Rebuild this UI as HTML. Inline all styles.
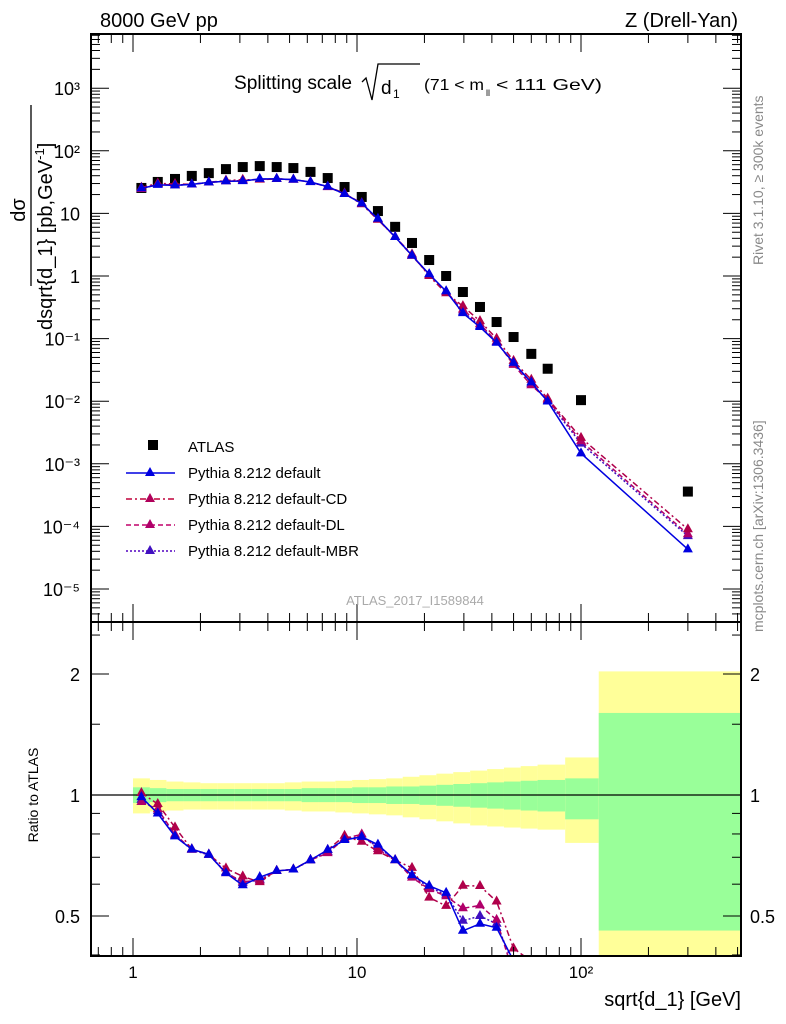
<!DOCTYPE html>
<html><head><meta charset="utf-8"><style>
html,body{margin:0;padding:0;background:#fff;width:786px;height:1024px;overflow:hidden;}
svg{display:block;font-family:"Liberation Sans",sans-serif;}
</style></head><body>
<svg id="c" width="786" height="1024" viewBox="0 0 786 1024" xmlns="http://www.w3.org/2000/svg">
<rect x="0" y="0" width="786" height="1024" fill="#fff"/>
<g id="bands"></g><g id="marks"></g><g id="axes"></g>
<text x="100" y="27" font-size="20">8000 GeV pp</text>
<text x="738" y="27" font-size="20" text-anchor="end">Z (Drell-Yan)</text>
<g>
<text x="234" y="89" font-size="19" textLength="118" lengthAdjust="spacingAndGlyphs">Splitting scale</text>
<path d="M362,82 L366,78 L372,100 L378,64 L420,64" fill="none" stroke="#000" stroke-width="1.3"/>
<text x="381" y="94" font-size="19">d</text><text x="393" y="98" font-size="12">1</text>
<text x="424" y="90" font-size="16" textLength="60" lengthAdjust="spacingAndGlyphs">(71 &lt; m</text><text x="486" y="96" font-size="9">ll</text><text x="496" y="90" font-size="16" textLength="106" lengthAdjust="spacingAndGlyphs">&lt; 111 GeV)</text>
</g>
<text x="415" y="605" font-size="13" fill="#aaa" text-anchor="middle">ATLAS_2017_I1589844</text>
<text transform="translate(763,265) rotate(-90)" font-size="14" fill="#888">Rivet 3.1.10, ≥ 300k events</text>
<text transform="translate(763,632) rotate(-90)" font-size="14" fill="#888">mcplots.cern.ch [arXiv:1306.3436]</text>
<g>
<text transform="translate(25,210) rotate(-90)" font-size="20" text-anchor="middle">dσ</text>
<line x1="31" y1="105" x2="31" y2="286" stroke="#000" stroke-width="1.3"/>
<text transform="translate(52,330) rotate(-90)" font-size="20">dsqrt{d_1} [pb,GeV<tspan font-size="13" dy="-8">-1</tspan><tspan dy="8">]</tspan></text>
</g>
<text transform="translate(38,795) rotate(-90)" font-size="14" text-anchor="middle">Ratio to ATLAS</text>
<text x="741" y="1006" font-size="20" text-anchor="end">sqrt{d_1} [GeV]</text>
<g>
<rect x="148" y="440" width="10" height="10" fill="#000"/><text x="188" y="452" font-size="15">ATLAS</text>
<line x1="126" y1="473" x2="175" y2="473" stroke="#0000e0" stroke-width="1.5"/><path d="M150,467 l5,9 h-10z" fill="#0000e0"/><text x="188" y="478" font-size="15">Pythia 8.212 default</text>
<line x1="126" y1="499" x2="175" y2="499" stroke="#c0003a" stroke-width="1.5" stroke-dasharray="6,3,2,3"/><path d="M150,493 l5,9 h-10z" fill="#b0005a"/><text x="188" y="504" font-size="15">Pythia 8.212 default-CD</text>
<line x1="126" y1="525" x2="175" y2="525" stroke="#c0006a" stroke-width="1.5" stroke-dasharray="5,3"/><path d="M150,519 l5,9 h-10z" fill="#b0006a"/><text x="188" y="530" font-size="15">Pythia 8.212 default-DL</text>
<line x1="126" y1="551" x2="175" y2="551" stroke="#5000c0" stroke-width="1.5" stroke-dasharray="2,2"/><path d="M150,545 l5,9 h-10z" fill="#4010c0"/><text x="188" y="556" font-size="15">Pythia 8.212 default-MBR</text>
</g>
</svg>
<script>
const xs=[1.09,1.29,1.54,1.83,2.18,2.6,3.09,3.68,4.38,5.2,6.2,7.4,8.8,10.5,12.4,14.8,17.6,21,25,29.7,35.4,42,50,60,71,100,300];
const atlas=[25.5,31.8,35.5,39.7,44,51,55,57,55,53,46,36.7,26.4,18.3,10.9,6.1,3.37,1.8,1.0,0.555,0.32,0.184,0.106,0.057,0.033,0.0104,3.6e-4];
const mcDefault=[25.2,28.6,28,29.1,31.3,32.6,32.8,35.6,35.6,34.6,31.7,26.8,20.4,14.4,8.2,4.2,2.13,1.07,0.571,0.255,0.153,0.086,0.041,0.020,0.0099,0.00147,4.3e-5];
const mcCD=[25.8,30.2,29.5,29.1,31.3,33.5,34.5,34.6,35.6,34.6,31.7,26.8,20.9,14.0,7.9,4.2,2.22,1.0,0.53,0.33,0.19,0.10,0.044,0.022,0.011,0.0026,9e-5];
const mcDL=[24.5,29.3,28.3,29.1,31.3,32.6,33.5,34.9,35.6,34.6,31.7,26.3,20.6,14.6,8.0,4.2,2.1,1.05,0.56,0.29,0.17,0.09,0.038,0.018,0.0105,0.0023,7.5e-5];
const mcMBR=[24.8,29.0,28.1,29.0,31.2,32.8,33.2,35.1,35.6,34.6,31.6,26.5,20.5,14.4,8.1,4.2,2.12,1.06,0.565,0.27,0.16,0.088,0.04,0.019,0.0102,0.0021,7e-5];
const binEdges=[1.0,1.19,1.41,1.68,2.0,2.38,2.83,3.37,4.0,4.76,5.66,6.73,8.0,9.51,11.3,13.5,16.0,19.0,22.6,26.9,32.0,38.1,45.3,53.8,64.0,85,120,520];
const greenUp=[1.045,1.04,1.035,1.035,1.035,1.035,1.035,1.035,1.035,1.035,1.04,1.04,1.04,1.045,1.045,1.05,1.05,1.055,1.06,1.065,1.07,1.075,1.08,1.085,1.09,1.10,1.60];
const greenDn=[0.955,0.96,0.965,0.965,0.965,0.965,0.965,0.965,0.965,0.965,0.96,0.96,0.96,0.955,0.955,0.95,0.95,0.945,0.94,0.935,0.93,0.925,0.92,0.915,0.91,0.87,0.46];
const yellowUp=[1.10,1.09,1.08,1.075,1.07,1.07,1.07,1.07,1.07,1.075,1.08,1.08,1.085,1.09,1.095,1.10,1.11,1.12,1.13,1.14,1.15,1.16,1.17,1.18,1.19,1.24,2.03];
const yellowDn=[0.90,0.91,0.915,0.92,0.92,0.92,0.92,0.92,0.92,0.915,0.91,0.91,0.905,0.90,0.895,0.89,0.88,0.87,0.86,0.85,0.84,0.835,0.83,0.825,0.82,0.76,0.30];
const yTickLabels=["10⁻⁵","10⁻⁴","10⁻³","10⁻²","10⁻¹","1","10","10²","10³"];
const xTickLabels=["1","10","10²"];
const rTicks=[0.5,1,2];

const NS="http://www.w3.org/2000/svg";
const L=91,R=741,MT=34,MB=622,RB=956;
const X=v=>133+224*Math.log10(v);
const Y=v=>276-62.6*Math.log10(v);
const RY=v=>795-121*Math.log2(v);
function mk(tag,attrs,parent){const e=document.createElementNS(NS,tag);for(const k in attrs)e.setAttribute(k,attrs[k]);parent.appendChild(e);return e;}
const bands=document.getElementById('bands'),marks=document.getElementById('marks'),axes=document.getElementById('axes');
const clipR=mk('clipPath',{id:'cr'},bands);mk('rect',{x:L,y:MB,width:R-L,height:RB-MB},clipR);
const clipM=mk('clipPath',{id:'cm'},bands);mk('rect',{x:L,y:MT,width:R-L,height:MB-MT},clipM);
for(let i=0;i<xs.length;i++){
  const x0=X(binEdges[i]),x1=Math.min(X(binEdges[i+1]),R);
  const y=mk('rect',{x:x0,y:RY(yellowUp[i]),width:x1-x0,height:RY(yellowDn[i])-RY(yellowUp[i]),fill:'#ffff99','clip-path':'url(#cr)'},bands);
  
  
  const g=mk('rect',{x:x0,y:RY(greenUp[i]),width:x1-x0,height:RY(greenDn[i])-RY(greenUp[i]),fill:'#99ff99','clip-path':'url(#cr)'},bands);
  
  
}
mk('line',{x1:L,y1:RY(1),x2:R,y2:RY(1),stroke:'#000','stroke-width':1.3},bands);
xs.forEach((x,i)=>{
  const r=mk('rect',{x:X(x)-5,y:Y(atlas[i])-5,width:10,height:10,fill:'#000'},marks);
  
  
});
const series=[
 {d:mcMBR,c:'#4010c0',dash:'2,2',n:'mbr'},
 {d:mcDL,c:'#b0006a',dash:'5,3',n:'dl'},
 {d:mcCD,c:'#b0004a',dash:'6,3,2,3',n:'cd'},
 {d:mcDefault,c:'#0000e0',dash:'',n:'default'}];
series.forEach(s=>{
  const pm=xs.map((x,i)=>X(x)+','+Y(s.d[i])).join(' ');
  const l=mk('polyline',{points:pm,fill:'none',stroke:s.c,'stroke-width':1.5,'stroke-dasharray':s.dash,'clip-path':'url(#cm)'},marks);
  
  
  const pr=xs.map((x,i)=>X(x)+','+RY(s.d[i]/atlas[i])).join(' ');
  const l2=mk('polyline',{points:pr,fill:'none',stroke:s.c,'stroke-width':1.5,'stroke-dasharray':s.dash,'clip-path':'url(#cr)'},marks);
  
  
  xs.forEach((x,i)=>{
    const px=X(x),py=Y(s.d[i]);
    const t=mk('path',{d:`M${px},${py-6} l5,9 h-10z`,fill:s.c,'clip-path':'url(#cm)'},marks);
    
    
    const ry=RY(s.d[i]/atlas[i]);
    const t2=mk('path',{d:`M${px},${ry-6} l5,9 h-10z`,fill:s.c,'clip-path':'url(#cr)'},marks);
    
    
  });
});
mk('rect',{x:L,y:MT,width:R-L,height:MB-MT,fill:'none',stroke:'#000','stroke-width':2},axes);
mk('rect',{x:L,y:MB,width:R-L,height:RB-MB,fill:'none',stroke:'#000','stroke-width':2},axes);
for(let d=-1;d<=2;d++)for(let m=1;m<10;m++){
  const v=m*Math.pow(10,d),x=X(v);if(x<L||x>R)continue;
  const len=m===1?18:9;
  [[MT,1],[MB,-1],[MB,1],[RB,-1]].forEach(([y,s])=>mk('line',{x1:x,y1:y,x2:x,y2:y+s*len,stroke:'#000','stroke-width':1},axes));
}
xTickLabels.forEach((t,i)=>{
  const e=mk('text',{x:X(Math.pow(10,i)),y:978,'font-size':17,'text-anchor':'middle'},axes);
  e.textContent=t;
  
  
});
for(let d=-6;d<=3;d++)for(let m=1;m<10;m++){
  const v=m*Math.pow(10,d),y=Y(v);if(y<MT||y>MB)continue;
  const len=m===1?18:9;
  mk('line',{x1:L,y1:y,x2:L+len,y2:y,stroke:'#000'},axes);
  mk('line',{x1:R,y1:y,x2:R-len,y2:y,stroke:'#000'},axes);
}
yTickLabels.forEach((t,i)=>{
  const e=mk('text',{x:80,y:Y(Math.pow(10,i-5))+7,'font-size':18,'text-anchor':'end'},axes);
  e.textContent=t;
  
  
});
[0.4,0.5,0.6,0.7,0.8,0.9,1,1.5,2,2.5].forEach(v=>{
  const y=RY(v);if(y<MB||y>RB)return;
  const len=(v===0.5||v===1||v===2)?18:9;
  mk('line',{x1:L,y1:y,x2:L+len,y2:y,stroke:'#000'},axes);
  mk('line',{x1:R,y1:y,x2:R-len,y2:y,stroke:'#000'},axes);
});
rTicks.forEach(v=>{
  const e=mk('text',{x:80,y:RY(v)+7,'font-size':18,'text-anchor':'end'},axes);
  e.textContent=String(v);
  
  
  const e2=mk('text',{x:750,y:RY(v)+7,'font-size':18},axes);
  e2.textContent=String(v);
  
  
});
</script>
</body></html>
